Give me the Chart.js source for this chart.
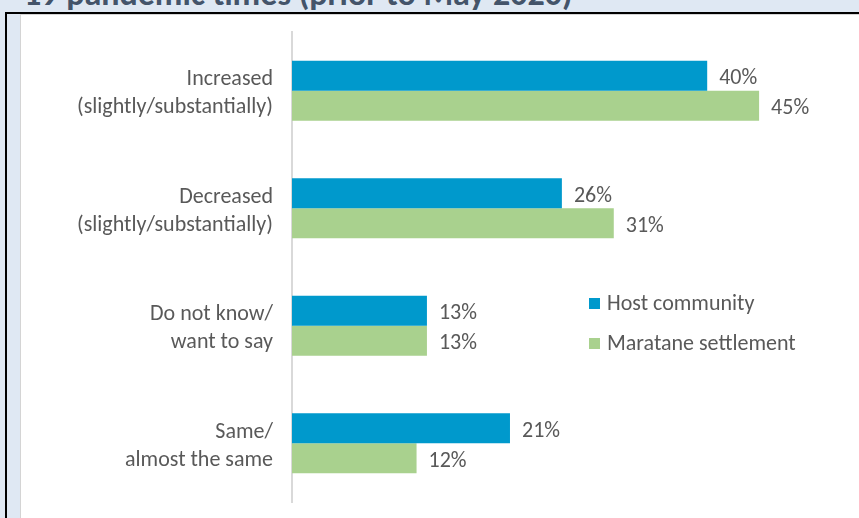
<!DOCTYPE html>
<html>
<head>
<meta charset="utf-8">
<script src="https://cdn.jsdelivr.net/npm/chart.js@4/dist/chart.umd.min.js"></script>
<style>
  html, body { margin:0; padding:0; background:#dfe8f3; }
  body { width:859px; height:518px; position:relative; overflow:hidden; font-family: Carlito, Lato, "Open Sans", sans-serif; }
  .title { position:absolute; left:0; top:0; width:859px; height:12px; overflow:hidden; }
  .title span { position:absolute; left:24px; top:-26px; font: bold 34px/40px Carlito, Lato, sans-serif; color:#44546a; white-space:nowrap; }
  .frame-top { position:absolute; left:5px; top:12px; width:854px; height:2px; background:#000; }
  .frame-left { position:absolute; left:5px; top:12px; width:2px; height:506px; background:#000; }
  .panel { position:absolute; left:20px; top:14px; width:839px; height:504px; background:#fff; border-left:1px solid #d4d4d4; border-top:1px solid #d4d4d4; box-sizing:border-box; }
  .panel canvas { position:absolute; left:0; top:0; }
</style>
</head>
<body>
<div class="title"><span>19 pandemic times (prior to May 2020)</span></div>
<div class="frame-top"></div>
<div class="frame-left"></div>
<div class="panel"><canvas id="chart" width="838" height="503"></canvas></div>
<script>
// categories and shares (%) per group
const categories = [
  ['Increased', '(slightly/substantially)'],
  ['Decreased', '(slightly/substantially)'],
  ['Do not know/', 'want to say'],
  ['Same/', 'almost the same']
];
const hostCommunity = [40, 26, 13, 21];
const maratane = [45, 31, 13, 12];
const seriesNames = ['Host community', 'Maratane settlement'];
const seriesColors = ['#0099cc', '#a9d18e'];

const FONT = 'Carlito, Lato, "Open Sans", sans-serif';
const FONT_SIZE = 22;
const TEXT = '#595959';

// value labels to the right of each bar
const valueLabels = {
  id: 'valueLabels',
  afterDatasetsDraw(chart){
    const ctx = chart.ctx;
    ctx.save();
    ctx.font = `${FONT_SIZE}px ${FONT}`;
    ctx.fillStyle = TEXT;
    ctx.textAlign = 'left';
    ctx.textBaseline = 'middle';
    chart.data.datasets.forEach((ds, i) => {
      chart.getDatasetMeta(i).data.forEach((bar, j) => {
        ctx.fillText(ds.data[j] + '%', bar.x + 12, bar.y + 3);
      });
    });
    ctx.restore();
  }
};

// legend placed inside the plot, right of the third group
const innerLegend = {
  id: 'innerLegend',
  afterDraw(chart){
    const ctx = chart.ctx;
    ctx.save();
    ctx.font = `${FONT_SIZE}px ${FONT}`;
    ctx.textBaseline = 'middle';
    chart.data.datasets.forEach((ds, i) => {
      const y = 288 + i * 40;
      ctx.fillStyle = ds.backgroundColor;
      ctx.fillRect(568, y - 5, 11, 11);
      ctx.fillStyle = TEXT;
      ctx.fillText(ds.label, 586, y + 1);
    });
    ctx.restore();
  }
};

new Chart(document.getElementById('chart'), {
  type: 'bar',
  data: {
    labels: categories,
    datasets: [
      { label: seriesNames[0], data: hostCommunity, backgroundColor: seriesColors[0] },
      { label: seriesNames[1], data: maratane, backgroundColor: seriesColors[1] }
    ]
  },
  options: {
    indexAxis: 'y',
    responsive: false,
    animation: false,
    layout: { padding: { top: 17, bottom: 16, right: 48, left: 0 } },
    datasets: { bar: { barPercentage: 1, categoryPercentage: 0.51 } },
    plugins: { legend: { display: false }, tooltip: { enabled: false } },
    scales: {
      x: { display: false, min: 0, max: 50 },
      y: {
        afterFit: s => { s.width = 271; s.paddingTop = 0; s.paddingBottom = 0; },
        grid: { display: false, drawTicks: false },
        border: { color: '#d9d9d9', width: 2 },
        ticks: { color: TEXT, padding: 19, labelOffset: 3, font: { family: FONT, size: FONT_SIZE, lineHeight: 1.27 } }
      }
    }
  },
  plugins: [valueLabels, innerLegend]
});
</script>
</body>
</html>
